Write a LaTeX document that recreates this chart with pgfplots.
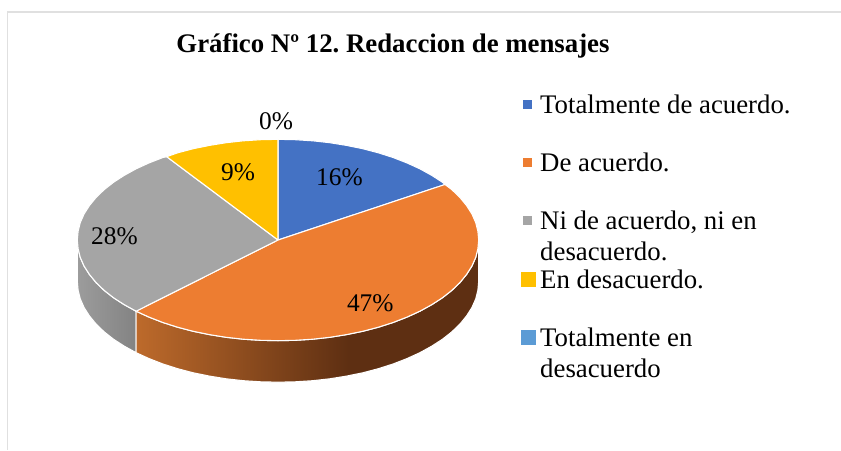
\documentclass[border=0pt]{standalone}
\usepackage{fontspec}
\setmainfont{Liberation Serif}
\usepackage{pgfplots}
\pgfplotsset{compat=1.18}
\frenchspacing
\definecolor{cblue}{HTML}{4472C4}
\definecolor{corange}{HTML}{ED7D31}
\definecolor{cgray}{HTML}{A5A5A5}
\definecolor{cyellow}{HTML}{FFC000}
\definecolor{clblue}{HTML}{5B9BD5}
\definecolor{cframe}{HTML}{E0E0E0}
\definecolor{sa}{HTML}{BD6A2B}
\definecolor{sb}{HTML}{5E2F12}
\definecolor{ga}{HTML}{9C9C9C}
\definecolor{gb}{HTML}{838383}
\pgfdeclarehorizontalshading{sideorange}{100bp}{color(0bp)=(sa); color(25bp)=(sa); color(56bp)=(sb); color(100bp)=(sb)}
\pgfdeclarehorizontalshading{sidegray}{100bp}{color(0bp)=(ga); color(25bp)=(ga); color(75bp)=(gb); color(100bp)=(gb)}
\newcommand{\lab}[1]{\fontsize{25.4}{25.4}\selectfont #1}
\newcommand{\leg}[1]{\fontsize{26.8}{26.8}\selectfont #1}
\begin{document}
\begin{tikzpicture}[x=1pt,y=1pt]
\useasboundingbox (0,0) rectangle (841,450);
\begin{axis}[at={(0pt,0pt)},anchor=south west,width=841pt,height=450pt,scale only axis,
  hide axis,xmin=0,xmax=841,ymin=0,ymax=450,y dir=reverse,clip=true]
% frame
\addplot[cframe,line width=1.5pt,no markers] coordinates {(7.5,450) (7.5,12) (841,12)};
% side: grey
\addplot[draw=white,line width=1.1pt,shade,shading=sidegray,no markers] coordinates {
(136.1,311.2)(124.3,304.7)(113.6,297.8)(104.2,290.4)(96.1,282.6)(89.4,274.4)(84.1,266.1)(80.3,257.5)(78.1,248.8)(77.3,240.0)
(77.3,281.5)(78.1,290.3)(80.3,299.0)(84.1,307.6)(89.4,315.9)(96.1,324.1)(104.2,331.9)(113.6,339.3)(124.3,346.2)(136.1,352.7)
(136.1,311.2)};
% side: orange
\addplot[draw=white,line width=1.1pt,shade,shading=sideorange,no markers] coordinates {
(136.1,311.2)(149.0,317.1)(162.9,322.5)(177.6,327.2)(193.2,331.3)(209.4,334.6)(226.1,337.3)(243.2,339.2)(260.5,340.3)(278.0,340.7)
(295.5,340.3)(312.8,339.2)(329.9,337.3)(346.6,334.6)(362.8,331.3)(378.4,327.2)(393.1,322.5)(407.0,317.1)(419.9,311.2)(431.7,304.7)
(442.4,297.8)(451.8,290.4)(459.9,282.6)(466.6,274.4)(471.9,266.1)(475.7,257.5)(477.9,248.8)(478.7,240.0)
(478.7,281.5)(477.9,290.3)(475.7,299.0)(471.9,307.6)(466.6,315.9)(459.9,324.1)(451.8,331.9)(442.4,339.3)(431.7,346.2)(419.9,352.7)
(407.0,358.6)(393.1,364.0)(378.4,368.7)(362.8,372.8)(346.6,376.1)(329.9,378.8)(312.8,380.7)(295.5,381.8)(278.0,382.2)(260.5,381.8)
(243.2,380.7)(226.1,378.8)(209.4,376.1)(193.2,372.8)(177.6,368.7)(162.9,364.0)(149.0,358.6)(136.1,352.7)(136.1,311.2)};
% top: blue
\addplot[draw=white,line width=1.1pt,fill=cblue,no markers] coordinates {
(278,240)(278.0,139.3)(295.5,139.7)(312.8,140.8)(329.9,142.7)(346.6,145.4)(362.8,148.7)(378.4,152.8)(393.1,157.5)(407.0,162.9)(419.9,168.8)(431.7,175.3)(442.4,182.2)(445,184.5)(278,240)};
% top: orange
\addplot[draw=white,line width=1.1pt,fill=corange,no markers] coordinates {
(278,240)(445,184.5)(451.8,189.6)(459.9,197.4)(466.6,205.6)(471.9,213.9)(475.7,222.5)(477.9,231.2)(478.7,240.0)
(477.9,248.8)(475.7,257.5)(471.9,266.1)(466.6,274.4)(459.9,282.6)(451.8,290.4)(442.4,297.8)(431.7,304.7)(419.9,311.2)(407.0,317.1)
(393.1,322.5)(378.4,327.2)(362.8,331.3)(346.6,334.6)(329.9,337.3)(312.8,339.2)(295.5,340.3)(278.0,340.7)
(260.5,340.3)(243.2,339.2)(226.1,337.3)(209.4,334.6)(193.2,331.3)(177.6,327.2)(162.9,322.5)(149.0,317.1)(136.1,311.2)(278,240)};
% top: grey
\addplot[draw=white,line width=1.1pt,fill=cgray,no markers] coordinates {
(278,240)(136.1,311.2)(124.3,304.7)(113.6,297.8)(104.2,290.4)(96.1,282.6)(89.4,274.4)(84.1,266.1)(80.3,257.5)(78.1,248.8)(77.3,240.0)
(78.1,231.2)(80.3,222.5)(84.1,213.9)(89.4,205.6)(96.1,197.4)(104.2,189.6)(113.6,182.2)(124.3,175.3)(136.1,168.8)(149.0,162.9)(162.9,157.5)(166.7,156.7)(278,240)};
% top: yellow
\addplot[draw=white,line width=1.1pt,fill=cyellow,no markers] coordinates {
(278,240)(166.7,156.7)(177.6,152.8)(193.2,148.7)(209.4,145.4)(226.1,142.7)(243.2,140.8)(260.5,139.7)(278,139.3)(278,240)};
% legend keys
\addplot[only marks,mark=square*,mark size=4pt,mark options={draw=cblue,fill=cblue,line width=0pt}] coordinates {(527.7,104)};
\addplot[only marks,mark=square*,mark size=4pt,mark options={draw=corange,fill=corange,line width=0pt}] coordinates {(527.7,162)};
\addplot[only marks,mark=square*,mark size=4pt,mark options={draw=cgray,fill=cgray,line width=0pt}] coordinates {(527.7,220.7)};
\addplot[only marks,mark=square*,mark size=7pt,mark options={draw=cyellow,fill=cyellow,line width=0pt}] coordinates {(528,279)};
\addplot[only marks,mark=square*,mark size=7pt,mark options={draw=clblue,fill=clblue,line width=0pt}] coordinates {(528,337)};
% title
\node[anchor=base,inner sep=0pt] at (axis cs:393,52.5) {\fontsize{26.8}{26.8}\selectfont\bfseries Gráfico Nº 12. Redaccion de mensajes};
% data labels
\node[anchor=base,inner sep=0pt] at (axis cs:339.5,185.5) {\lab{16\%}};
\node[anchor=base,inner sep=0pt] at (axis cs:370.3,311.5) {\lab{47\%}};
\node[anchor=base,inner sep=0pt] at (axis cs:114.5,244) {\lab{28\%}};
\node[anchor=base,inner sep=0pt] at (axis cs:238,180) {\lab{9\%}};
\node[anchor=base,inner sep=0pt] at (axis cs:276,129.5) {\lab{0\%}};
% legend text
\node[anchor=base west,inner sep=0pt] at (axis cs:540,113) {\leg{Totalmente de acuerdo.}};
\node[anchor=base west,inner sep=0pt] at (axis cs:540,171.4) {\leg{De acuerdo.}};
\node[anchor=base west,inner sep=0pt] at (axis cs:540,229.7) {\leg{Ni de acuerdo, ni en}};
\node[anchor=base west,inner sep=0pt] at (axis cs:540,260.7) {\leg{desacuerdo.}};
\node[anchor=base west,inner sep=0pt] at (axis cs:540,288.7) {\leg{En desacuerdo.}};
\node[anchor=base west,inner sep=0pt] at (axis cs:540,346.4) {\leg{Totalmente en}};
\node[anchor=base west,inner sep=0pt] at (axis cs:540,377.4) {\leg{desacuerdo}};
\end{axis}
\end{tikzpicture}
\end{document}
